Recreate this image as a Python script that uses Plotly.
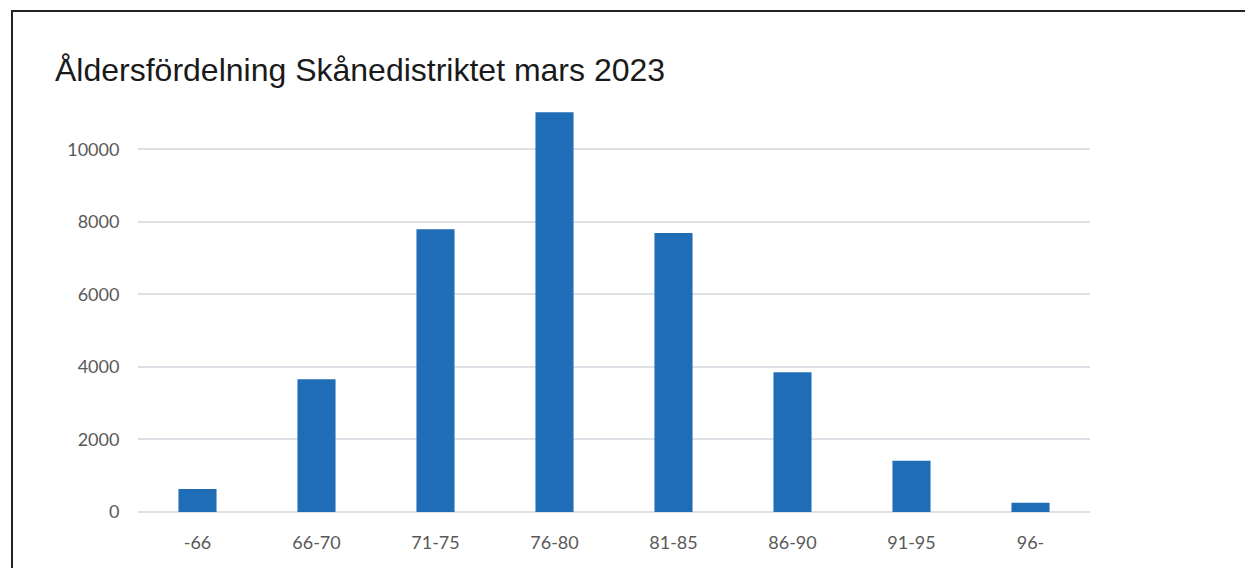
import plotly.graph_objects as go

categories = ["-66", "66-70", "71-75", "76-80", "81-85", "86-90", "91-95", "96-"]
values = [635, 3660, 7795, 11020, 7690, 3850, 1415, 255]
y_ticks = [0, 2000, 4000, 6000, 8000, 10000]
title_text = "Åldersfördelning Skånedistriktet mars 2023"

W, H = 1245, 568
L, R_EDGE = 138, 1090
TOP, BOT = 105, 512
pw, ph = R_EDGE - L, BOT - TOP

def px_x(x):
    return (x - L) / pw

def px_y(y):
    return (BOT - y) / ph

fig = go.Figure(go.Bar(
    x=categories, y=values,
    marker=dict(color="#1f6cb7", line=dict(width=0)),
    width=0.32,
))

fig.update_layout(
    width=W, height=H,
    margin=dict(l=L, r=W - R_EDGE, t=TOP, b=H - BOT, autoexpand=False),
    paper_bgcolor="white", plot_bgcolor="white",
    showlegend=False,
    title=dict(text=title_text, x=55 / W, xanchor="left", xref="container",
               y=1 - 70 / H, yanchor="middle", yref="container",
               font=dict(family="Liberation Sans, Arial, sans-serif", size=32, color="#1a1a1a")),
    xaxis=dict(showgrid=False, showline=False, ticks="outside", ticklen=14,
               tickcolor="rgba(0,0,0,0)",
               tickfont=dict(family="Lato, sans-serif", size=18, color="#595959")),
    yaxis=dict(range=[0, ph / (362.7 / 10000)], tickvals=y_ticks,
               ticktext=[str(v) for v in y_ticks],
               showgrid=True, gridcolor="#dde1e6", gridwidth=1.5,
               zeroline=True, zerolinecolor="#dde1e6", zerolinewidth=1.5,
               showline=False, ticks="outside", ticklen=14,
               tickcolor="rgba(0,0,0,0)",
               tickfont=dict(family="Lato, sans-serif", size=18, color="#595959")),
    shapes=[
        dict(type="line", xref="paper", yref="paper",
             x0=px_x(12), x1=px_x(12), y0=px_y(H + 5), y1=px_y(10),
             line=dict(color="#222222", width=2)),
        dict(type="line", xref="paper", yref="paper",
             x0=px_x(11), x1=px_x(W + 5), y0=px_y(11), y1=px_y(11),
             line=dict(color="#222222", width=2)),
    ],
)

fig.write_html("out.html", config={"displayModeBar": False},
               post_script="document.body.style.margin='0';")
